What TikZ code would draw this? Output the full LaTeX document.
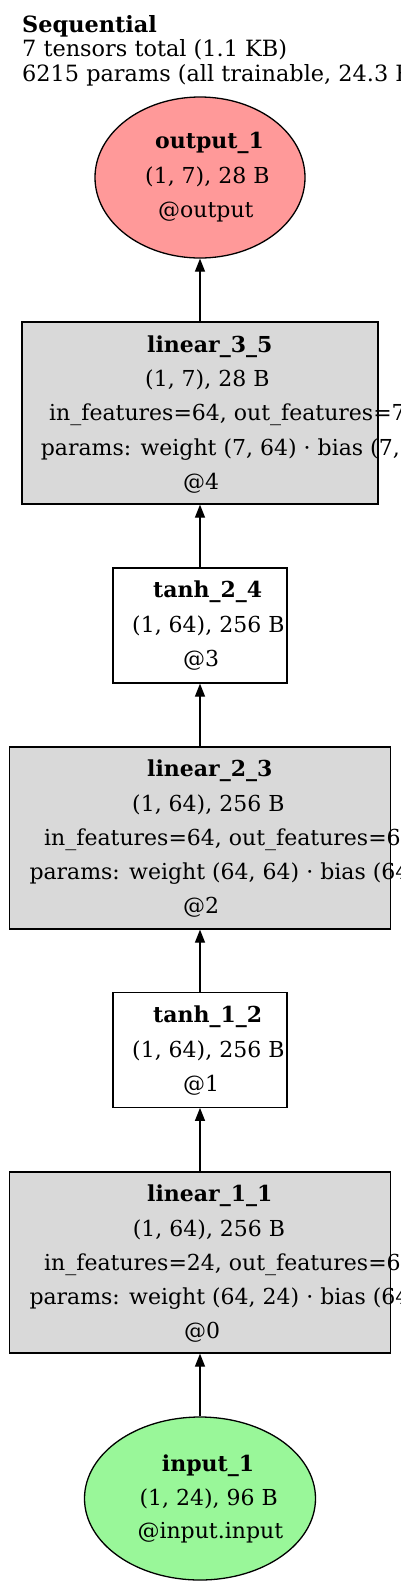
\documentclass[tikz,border=0pt]{standalone}
\usepackage{fontspec}
\setmainfont{DejaVu Serif}
\usepackage{xcolor}
\usetikzlibrary{arrows.meta,shapes.geometric}

\definecolor{outfill}{HTML}{FF9999}
\definecolor{infill}{HTML}{99F799}
\definecolor{layerfill}{HTML}{D9D9D9}

\tikzset{
  layerbox/.style={draw, line width=1.3pt, fill=layerfill, inner sep=0pt},
  actbox/.style={draw, line width=1.3pt, fill=white, inner sep=0pt},
  iobubble/.style={draw, ellipse, line width=1.3pt, inner sep=0pt},
  txt/.style={anchor=base west, inner sep=0pt, font=\fontsize{22}{26}\selectfont},
  hdr/.style={txt, font=\fontsize{22.4}{26}\selectfont},
  edge/.style={line width=1.3pt, -{Triangle[length=13pt,width=10pt]}}
}

\begin{document}
\begin{tikzpicture}[x=1pt, y=-1pt]
                    \useasboundingbox (0,0) rectangle (400,1588);
                    \clip (0,0) rectangle (400,1588);

                    % Graph label
                    \node[hdr] (title) at (22,32.3) {\textbf{Sequential}};
                    \node[hdr] (tensors) at (22,56.7) {7 tensors total (1.1 KB)};
                    \node[hdr] (params) at (22,81.7) {6215 params (all trainable, 24.3 KB)};

                    % Shapes
                    \node[iobubble, fill=outfill, minimum width=210, minimum height=161] (out1) at (200,177.5) {};
                    \node[layerbox, minimum width=356, minimum height=182] (lin35) at (200,413) {};
                    \node[actbox, minimum width=174, minimum height=115] (tanh24) at (200,625.5) {};
                    \node[layerbox, minimum width=381, minimum height=182] (lin23) at (200,838) {};
                    \node[actbox, minimum width=174, minimum height=114.5] (tanh12) at (200,1050) {};
                    \node[layerbox, minimum width=381, minimum height=181] (lin11) at (200,1262.5) {};
                    \node[iobubble, fill=infill, minimum width=231, minimum height=163] (in1) at (200,1498.5) {};

                    % Connectors
                    \draw[edge] (in1.north) -- (lin11.south);
                    \draw[edge] (lin11.north) -- (tanh12.south);
                    \draw[edge] (tanh12.north) -- (lin23.south);
                    \draw[edge] (lin23.north) -- (tanh24.south);
                    \draw[edge] (tanh24.north) -- (lin35.south);
                    \draw[edge] (lin35.north) -- (out1.south);

                    % output_1
                    \node[txt] (out1a) at (155,148.5) {\textbf{output\_1}};
                    \node[txt] (out1b) at (145,183) {(1, 7), 28 B};
                    \node[txt] (out1c) at (158,217.5) {@output};

                    % linear_3_5
                    \node[txt] (lin35a) at (147,352) {\textbf{linear\_3\_5}};
                    \node[txt] (lin35b) at (145,386.3) {(1, 7), 28 B};
                    \node[txt] (lin35c) at (49,420.6) {in\_features=64, out\_features=7};
                    \node[txt] (lin35d) at (40.7,455) {params: weight (7, 64) · bias (7,)};
                    \node[txt] (lin35e) at (183,489) {@4};

                    % tanh_2_4
                    \node[txt] (tanh24a) at (153,597) {\textbf{tanh\_2\_4}};
                    \node[txt] (tanh24b) at (132,632) {(1, 64), 256 B};
                    \node[txt] (tanh24c) at (183,666.5) {@3};

                    % linear_2_3
                    \node[txt] (lin23a) at (147,776.5) {\textbf{linear\_2\_3}};
                    \node[txt] (lin23b) at (132,811) {(1, 64), 256 B};
                    \node[txt] (lin23c) at (44,845) {in\_features=64, out\_features=64};
                    \node[txt] (lin23d) at (29.3,879.5) {params: weight (64, 64) · bias (64,)};
                    \node[txt] (lin23e) at (183,913.5) {@2};

                    % tanh_1_2
                    \node[txt] (tanh12a) at (153,1022.5) {\textbf{tanh\_1\_2}};
                    \node[txt] (tanh12b) at (132,1057) {(1, 64), 256 B};
                    \node[txt] (tanh12c) at (183,1091.5) {@1};

                    % linear_1_1
                    \node[txt] (lin11a) at (147,1201.5) {\textbf{linear\_1\_1}};
                    \node[txt] (lin11b) at (132.7,1236) {(1, 64), 256 B};
                    \node[txt] (lin11c) at (44,1270) {in\_features=24, out\_features=64};
                    \node[txt] (lin11d) at (29.3,1304.5) {params: weight (64, 24) · bias (64,)};
                    \node[txt] (lin11e) at (184,1338.5) {@0};

                    % input_1
                    \node[txt] (in1a) at (161.7,1471.5) {\textbf{input\_1}};
                    \node[txt] (in1b) at (139.3,1505) {(1, 24), 96 B};
                    \node[txt] (in1c) at (137.3,1538.5) {@input.input};
                \end{tikzpicture}
\end{document}
